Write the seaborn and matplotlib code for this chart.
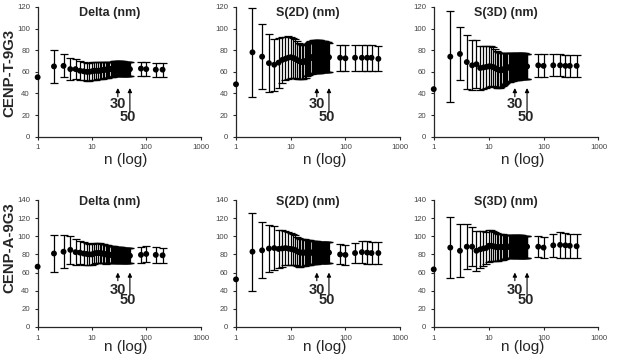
import matplotlib
matplotlib.use("Agg")
import matplotlib.pyplot as plt
from matplotlib.ticker import NullLocator
import pandas as pd
import seaborn as sns

# x values (number of averaged measurements)
N_SHORT = [1, 2, 3, 4, 5, 6, 7, 8, 9, 10,
           11, 12, 13, 14, 15, 16, 17, 18, 19, 20,
           21, 22, 23, 24, 25, 26, 27, 28, 29, 30,
           31, 32, 33, 34, 35, 36, 37, 38, 39, 40,
           41, 42, 43, 44, 45, 46, 47, 48, 49, 50,
           80, 100, 150, 200]
N_LONG = N_SHORT + [250, 300, 400]

# CENP-T-9G3
DELTA_T_MEAN = [55, 65, 65.5, 62.5, 62.5, 61, 60.5, 60, 60, 60.5,
                61, 61, 61, 61, 61.5, 61.5, 62, 62, 62, 62,
                62.5, 62.5, 62.5, 62.5, 63, 63, 63, 63, 63, 63,
                63, 63, 63, 63, 63, 63, 63, 62.5, 62.5, 62.5,
                62.5, 62.5, 62.5, 62.5, 62.5, 62.5, 62.5, 62.5, 62.5, 62.5,
                63, 62.5, 62, 62]
DELTA_T_ERR = [0, 15, 10.5, 10, 9.5, 9, 8.5, 8.5, 8.5, 8.5,
               8.5, 8.5, 8, 8, 8, 8, 7.5, 7.5, 7.5, 7.5,
               7, 7, 7, 7, 7, 7, 7, 7, 7, 7,
               7, 7, 7, 7, 7, 7, 7, 6.5, 6.5, 6.5,
               6.5, 6.5, 6.5, 6.5, 6.5, 6.5, 6.5, 6.5, 6.5, 6.5,
               6.5, 6.5, 6.5, 6.5]

S2D_T_MEAN = [48.5, 78, 74, 68, 66.5, 68.5, 71, 72, 73, 73.5,
              73, 72, 71, 70, 69.5, 69, 69, 69.5, 70, 71,
              72, 72.5, 73, 73, 73.5, 74, 74, 74, 74, 74,
              74, 74, 74, 74, 74, 74, 74, 74, 74, 74,
              74, 74, 73.5, 73.5, 73.5, 73.5, 73.5, 73.5, 73.5, 73.5,
              73, 72.5, 73, 73, 73, 73, 72]
S2D_T_ERR = [0, 41, 30, 27, 24, 23, 21, 20, 20, 19,
             18.5, 18, 17.5, 17, 16.5, 16, 16, 15.5, 15.5, 15,
             15, 15, 15, 15, 15, 15, 15, 15, 15, 15,
             15, 15, 15, 15, 15, 14.5, 14.5, 14.5, 14.5, 14.5,
             14, 14, 14, 14, 14, 14, 14, 14, 13.5, 13.5,
             12, 12, 12, 12, 12, 12, 11.5]

S3D_T_MEAN = [44, 74, 76.5, 69, 66, 67, 63.5, 64, 64.5, 65,
              65, 64.5, 63.5, 62.5, 62, 61.5, 61.5, 62, 62.5, 63,
              63.5, 64, 64, 64, 64.5, 64.5, 64.5, 64.5, 64.5, 64.5,
              65, 65, 65, 65, 65, 65, 65, 65, 65, 65,
              65, 65, 65, 65, 65, 65, 65, 65, 65, 65,
              66, 65.5, 66, 66, 65.5, 65.5, 65.5]
S3D_T_ERR = [0, 42, 24.5, 25, 23, 22, 20.5, 20, 19.5, 19,
             18.5, 18, 17.5, 17, 16.5, 16, 15.5, 15, 14.5, 14,
             13.5, 13.5, 13.5, 13, 13, 13, 13, 13, 12.5, 12.5,
             12.5, 12.5, 12.5, 12.5, 12.5, 12, 12, 12, 12, 12,
             12, 12, 12, 12, 12, 11.5, 11.5, 11.5, 11.5, 11.5,
             10.5, 10.5, 10, 10, 10, 10, 10]

# CENP-A-9G3
DELTA_A_MEAN = [66.5, 81, 83, 85, 82.5, 82, 81, 80.5, 80, 80,
                81, 81.5, 81.5, 81.5, 81, 81, 80.5, 80, 80, 80,
                79.5, 79.5, 79.5, 79.5, 79.5, 79.5, 79.5, 79.5, 79.5, 79.5,
                79, 79, 79, 79, 79, 79, 79, 79, 79, 79,
                78.5, 78.5, 78.5, 78.5, 78.5, 78.5, 78.5, 78.5, 78.5, 78.5,
                79.5, 80.5, 79.5, 79]
DELTA_A_ERR = [0, 20, 18, 15.5, 14, 13, 12.5, 12, 11.5, 11.5,
               11.5, 11.5, 11, 11, 11, 10.5, 10.5, 10.5, 10, 10,
               9.5, 9.5, 9.5, 9.5, 9.5, 9, 9, 9, 9, 9,
               9, 9, 9, 9, 9, 8.5, 8.5, 8.5, 8.5, 8.5,
               8.5, 8.5, 8.5, 8.5, 8.5, 8.5, 8.5, 8.5, 8.5, 8.5,
               8.5, 8.5, 8.5, 8.5]

S2D_A_MEAN = [52.5, 83, 84.5, 86.5, 87, 86, 86.5, 87, 86.5, 86,
              85.5, 85, 83.5, 82.5, 82, 82, 82, 82, 82, 82,
              82, 82, 82, 82, 82, 82, 82, 82, 82, 82,
              82, 82, 82, 82, 82, 82, 82, 82, 82, 82,
              82, 82, 82, 82, 82, 82, 82, 82, 82, 82,
              80, 79.5, 81.5, 82.5, 82, 81.5, 81.5]
S2D_A_ERR = [0, 43, 31, 25.5, 24, 21, 20, 19, 18, 17.5,
             17, 16.5, 16, 16, 15.5, 15, 15, 14.5, 14, 14,
             13.5, 13.5, 13.5, 13, 13, 13, 13, 12.5, 12.5, 12.5,
             12, 12, 12, 12, 12, 12, 12, 12, 12, 12,
             12, 12, 11.5, 11.5, 11.5, 11.5, 11.5, 11.5, 11.5, 11.5,
             11, 11, 11.5, 12.5, 12.5, 12.5, 12.5]

S3D_A_MEAN = [63.5, 87.5, 84, 88.5, 88.5, 84, 85.5, 86.5, 87, 89.5,
              89.5, 89, 88.5, 88, 88, 88, 88, 88, 88, 88,
              88.5, 88.5, 88.5, 88.5, 88.5, 88.5, 88.5, 88.5, 88.5, 88.5,
              88.5, 88.5, 88.5, 88.5, 88.5, 88.5, 88.5, 88.5, 88.5, 88.5,
              88.5, 88.5, 88.5, 88.5, 88.5, 88.5, 88.5, 88.5, 88.5, 88.5,
              88.5, 87.5, 90, 90.5, 90, 89.5, 89]
S3D_A_ERR = [0, 34, 29, 24.5, 21.5, 22, 20.5, 19, 18, 17.5,
             17, 16.5, 16, 15.5, 15, 14.5, 14, 14, 13.5, 13,
             13, 13, 13, 13, 12.5, 12.5, 12.5, 12.5, 12.5, 12.5,
             12.5, 12.5, 12.5, 12.5, 12.5, 12.5, 12.5, 12.5, 12.5, 12.5,
             12, 12, 12, 12, 12, 12, 12, 12, 12, 12,
             11.5, 11.5, 13, 14, 14, 13.5, 13.5]

TITLES = ["Delta (nm)", "S(2D) (nm)", "S(3D) (nm)"]
ROW_LABELS = ["CENP-T-9G3", "CENP-A-9G3"]
Y_MAX = [120, 140]
X_TICKS = [1, 10, 100, 1000]
ARROW_N = [30, 50]

sns.set_style("ticks")
plt.rcParams['font.family'] = ['Liberation Sans', 'DejaVu Sans']

fig = plt.figure(figsize=(6.17, 3.6), dpi=100)

rows = [
    [(N_SHORT, DELTA_T_MEAN, DELTA_T_ERR), (N_LONG, S2D_T_MEAN, S2D_T_ERR), (N_LONG, S3D_T_MEAN, S3D_T_ERR)],
    [(N_SHORT, DELTA_A_MEAN, DELTA_A_ERR), (N_LONG, S2D_A_MEAN, S2D_A_ERR), (N_LONG, S3D_A_MEAN, S3D_A_ERR)],
]

row_pos = [(0.620, 0.361), (0.0917, 0.3528)]
col_pos = [(0.061, 0.264), (0.3825, 0.266), (0.703, 0.267)]
# arrow / label heights per row (data units)
arrow_cfg = [
    dict(tip=45, tail30=37, tail50=23, txt30=30, txt50=18.5, title_y=0.955, xlab_y=-0.18),
    dict(tip=60, tail30=51, tail50=36, txt30=41, txt50=29.5, title_y=0.985, xlab_y=-0.158),
]

for r, row in enumerate(rows):
    b, h = row_pos[r]
    cfg = arrow_cfg[r]
    for c, (n, mean, err) in enumerate(row):
        l, w = col_pos[c]
        ax = fig.add_axes([l, b, w, h])
        df = pd.DataFrame({'n': n, 'mean': mean, 'err': err})
        bars = df[df['err'] > 0]
        ax.set_xscale('log')
        ax.errorbar(bars['n'], bars['mean'], yerr=bars['err'], fmt='none', ecolor='black',
                    elinewidth=0.9, capsize=3.2, capthick=0.9, clip_on=False, zorder=2)
        sns.scatterplot(data=df, x='n', y='mean', ax=ax, color='black', s=18,
                        edgecolor='none', clip_on=False, zorder=3, legend=False)
        ax.set_xlim(1, 1000)
        ax.set_ylim(0, Y_MAX[r])
        ax.set_xticks(X_TICKS)
        ax.set_xticklabels([str(t) for t in X_TICKS])
        ax.xaxis.set_minor_locator(NullLocator())
        ax.set_yticks(range(0, Y_MAX[r] + 1, 20))
        ax.tick_params(axis='both', labelsize=5.6, length=2.5, width=0.8,
                       labelcolor='#444444', pad=3)
        for s in ['left', 'bottom']:
            ax.spines[s].set_linewidth(0.9)
        sns.despine(ax=ax)
        ax.set_xlabel("")
        ax.set_ylabel("")

        ax.text(0.44, cfg['title_y'], TITLES[c], transform=ax.transAxes,
                ha='center', va='center', fontsize=9, fontweight='bold')
        ax.text(0.54, cfg['xlab_y'], "n (log)", transform=ax.transAxes,
                ha='center', va='center', fontsize=11)

        ap = dict(arrowstyle='-|>', color='black', lw=0.8, mutation_scale=6,
                  shrinkA=0, shrinkB=0)
        ax.annotate("", xy=(ARROW_N[0], cfg['tip']), xytext=(ARROW_N[0], cfg['tail30']),
                    arrowprops=ap)
        ax.annotate("", xy=(ARROW_N[1], cfg['tip']), xytext=(ARROW_N[1], cfg['tail50']),
                    arrowprops=ap)
        ax.text(ARROW_N[0], cfg['txt30'], "30", ha='center', va='center',
                fontsize=10.5, fontweight='bold')
        ax.text(ARROW_N[1] * 0.93, cfg['txt50'], "50", ha='center', va='center',
                fontsize=10.5, fontweight='bold')

fig.text(9 / 617, 1 - 73 / 360, ROW_LABELS[0], rotation=90, ha='center', va='center',
         fontsize=10.8, fontweight='bold')
fig.text(9 / 617, 1 - 248 / 360, ROW_LABELS[1], rotation=90, ha='center', va='center',
         fontsize=10.8, fontweight='bold')

fig.savefig("out.png", dpi=100)
